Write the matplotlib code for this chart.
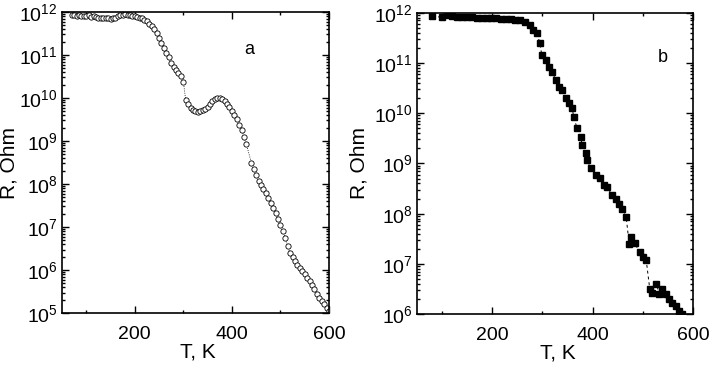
import numpy as np
import matplotlib
matplotlib.use("Agg")
import matplotlib.pyplot as plt
from matplotlib.ticker import LogLocator, MultipleLocator, NullFormatter

plt.rcParams['font.family'] = ['Liberation Sans', 'DejaVu Sans']
plt.rcParams['mathtext.fontset'] = 'custom'
plt.rcParams['mathtext.rm'] = 'Liberation Sans'
plt.rcParams['mathtext.it'] = 'Liberation Sans'

# panel a: open circles, T in K, log10(R / Ohm)
t_a = [70, 75, 80, 85, 90, 95, 100, 105, 110, 115, 120, 125, 130, 135, 140, 145,
       150, 155, 160, 165, 170, 175, 180, 185, 190, 195, 200, 205, 210, 215, 220,
       225, 230, 235, 240, 245, 250, 255, 260, 265, 270, 275, 280, 285, 290, 295,
       300,
       305, 310, 315, 320, 325, 330, 335, 340, 345, 350, 355, 360, 365, 370, 375,
       380, 385, 390, 395, 400, 405, 410, 415, 420, 425, 430,
       440, 445, 450, 455, 460, 465, 470, 475, 480, 485, 490, 495, 500, 505, 510,
       515, 520, 525, 530, 535, 540, 545, 550, 555, 560, 565, 570, 575, 580, 585,
       590, 595, 600]
logr_a = [11.92, 11.93, 11.91, 11.92, 11.90, 11.91, 11.90, 11.92, 11.89, 11.91,
          11.88, 11.87, 11.86, 11.85, 11.85, 11.85, 11.84, 11.86, 11.87, 11.90,
          11.92, 11.94, 11.95, 11.94, 11.92, 11.91, 11.90, 11.89, 11.87, 11.85,
          11.82, 11.78, 11.73, 11.67, 11.60, 11.50, 11.40, 11.28, 11.17, 11.05,
          10.95, 10.82, 10.72, 10.65, 10.58, 10.50, 10.38,
          9.95, 9.85, 9.77, 9.71, 9.69, 9.68, 9.69, 9.71, 9.75, 9.80, 9.87, 9.93,
          9.98, 10.00, 10.00, 9.97, 9.92, 9.85, 9.78, 9.70, 9.60, 9.50, 9.38,
          9.25, 9.10, 8.92,
          8.50, 8.35, 8.20, 8.08, 7.98, 7.88, 7.78, 7.68, 7.57, 7.45, 7.33, 7.18,
          7.05, 6.90, 6.75, 6.55, 6.40, 6.30, 6.20, 6.12, 6.05, 5.98, 5.90, 5.82,
          5.74, 5.65, 5.55, 5.45, 5.36, 5.28, 5.20, 5.12, 5.05]

# panel b: filled squares
t_b = [81, 101, 111, 120, 130, 140, 150, 160, 170, 180, 190, 198, 208, 218, 228,
       238, 246, 256, 266, 276, 282, 289, 295, 299, 307, 313, 319, 327, 333, 339,
       347, 353, 359, 363, 369, 377, 379, 387, 389, 397, 407, 415, 423, 429, 439,
       447, 453, 459, 467, 473, 477, 484, 494, 500, 507, 514, 519, 527, 533, 539,
       547, 553, 559, 567, 573, 579]
logr_b = [11.93, 11.91, 11.95, 11.93, 11.92, 11.92, 11.91, 11.91, 11.90, 11.90,
          11.89, 11.89, 11.89, 11.88, 11.88, 11.87, 11.86, 11.85, 11.82, 11.75,
          11.65, 11.60, 11.40, 11.16, 11.06, 10.92, 10.82, 10.66, 10.53, 10.46,
          10.30, 10.20, 10.10, 9.92, 9.70, 9.52, 9.37, 9.20, 9.07, 8.90, 8.77,
          8.71, 8.57, 8.53, 8.37, 8.30, 8.20, 8.10, 7.93, 7.40, 7.53, 7.41, 7.23,
          7.13, 7.07, 6.50, 6.43, 6.60, 6.41, 6.50, 6.41, 6.31, 6.23, 6.17, 6.07,
          6.00]

r_a = 10.0 ** np.array(logr_a)
r_b = 10.0 ** np.array(logr_b)

fig = plt.figure(figsize=(7.1, 3.74), dpi=100)
ax_a = fig.add_axes([0.0873, 0.163, 0.376, 0.805])
ax_b = fig.add_axes([0.587, 0.160, 0.389, 0.806])

ax_a.plot(t_a, r_a, linestyle=':', color='black', linewidth=0.6,
          marker='o', markersize=3.8, markerfacecolor='white',
          markeredgecolor='black', markeredgewidth=0.6)
ax_b.plot(t_b, r_b, linestyle='--', color='black', linewidth=0.7,
          dashes=(3, 3), marker='s', markersize=4.6, markerfacecolor='black',
          markeredgecolor='black')

for ax, ylo, ylab_x in ((ax_a, 1e5, -0.197), (ax_b, 1e6, -0.21)):
    ax.set_yscale('log')
    ax.set_xlim(50, 600)
    ax.set_ylim(ylo, 1e12)
    ax.xaxis.set_major_locator(MultipleLocator(200))
    ax.xaxis.set_minor_locator(MultipleLocator(100))
    ax.yaxis.set_major_locator(LogLocator(base=10, numticks=20))
    ax.yaxis.set_minor_locator(LogLocator(base=10, subs=np.arange(2, 10), numticks=20))
    ax.yaxis.set_minor_formatter(NullFormatter())
    ax.tick_params(which='both', direction='in', top=True, right=True,
                   labelsize=14, width=1.0)
    ax.tick_params(which='major', length=5)
    ax.tick_params(which='minor', length=2.5)
    ax.tick_params(axis='x', pad=9)
    ax.tick_params(axis='y', pad=3)
    for sp in ax.spines.values():
        sp.set_linewidth(1.2)
    xl = ax.set_xlabel('T, K', fontsize=15)
    xl.set_verticalalignment('center')
    ax.xaxis.set_label_coords(0.51, -0.13)
    yl = ax.set_ylabel('R, Ohm', fontsize=15)
    yl.set_verticalalignment('center')
    ax.yaxis.set_label_coords(ylab_x, 0.5)

ax_a.text(0.70, 0.874, 'a', transform=ax_a.transAxes, fontsize=13,
          ha='center', va='center')
ax_b.text(0.89, 0.85, 'b', transform=ax_b.transAxes, fontsize=13,
          ha='center', va='center')

fig.savefig('out.png', dpi=100)
